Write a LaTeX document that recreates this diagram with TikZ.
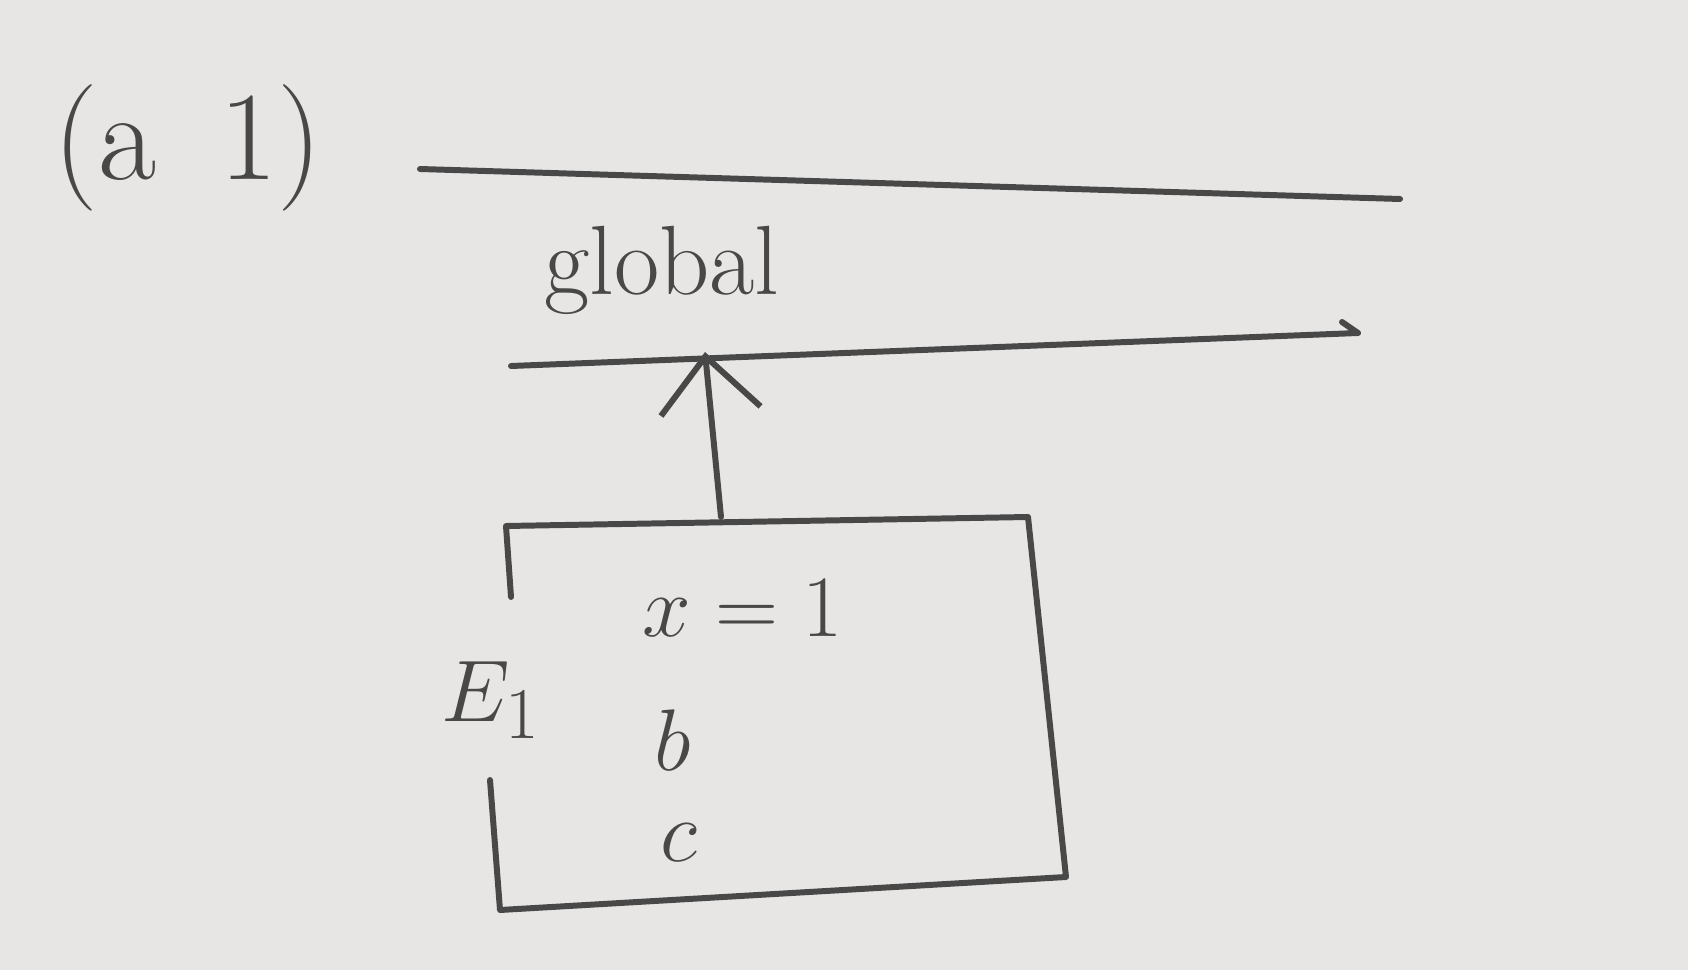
\documentclass[tikz,border=0pt]{standalone}
\usetikzlibrary{arrows.meta}
\definecolor{paper}{RGB}{232,230,228}
\definecolor{pencil}{RGB}{72,72,72}
\begin{document}
\begin{tikzpicture}[x=0.01cm,y=-0.01cm,line cap=round,line join=round,
	pen/.style={draw=pencil,line width=1.7pt},
	txt/.style={text=pencil,font=\fontsize{28}{32}\selectfont,inner sep=0pt},
	>={Straight Barb[length=5.5mm,width=10mm]}]
				\fill[paper] (0,0) rectangle (1688,970);
				\node[txt,font=\fontsize{36}{40}\selectfont] (lab) at (188,148) {(a\hspace{0.5em}1)};
				\coordinate (t1) at (420,169);
				\coordinate (t2) at (1400,199);
				\draw[pen] (t1)--(t2);
				\node[txt] (glob) at (662,270) {global};
				\coordinate (g1) at (511,366);
				\coordinate (g2) at (1358,333);
				\coordinate (gk) at (1342,322);
				\draw[pen] (g1)--(g2)--(gk);
				\coordinate (hit) at (705,352);
				% the environment box, open on the left for its name
				\coordinate (b1) at (511,597);
				\coordinate (b2) at (506,526);
				\coordinate (b3) at (1028,517);
				\coordinate (b4) at (1066,877);
				\coordinate (b5) at (500,910);
				\coordinate (b6) at (490,780);
				\draw[pen] (b1)--(b2)--(b3)--(b4)--(b5)--(b6);
				\coordinate (top) at (721,517);
				\draw[pen,->] (top)--(hit);
				\node[txt] (env) at (491,700) {$E_1$};
				\node[txt] (vx) at (743,608) {$x = 1$};
				\node[txt] (vb) at (673,740) {$b$};
				\node[txt] (vc) at (679,843) {$c$};
			\end{tikzpicture}
\end{document}
